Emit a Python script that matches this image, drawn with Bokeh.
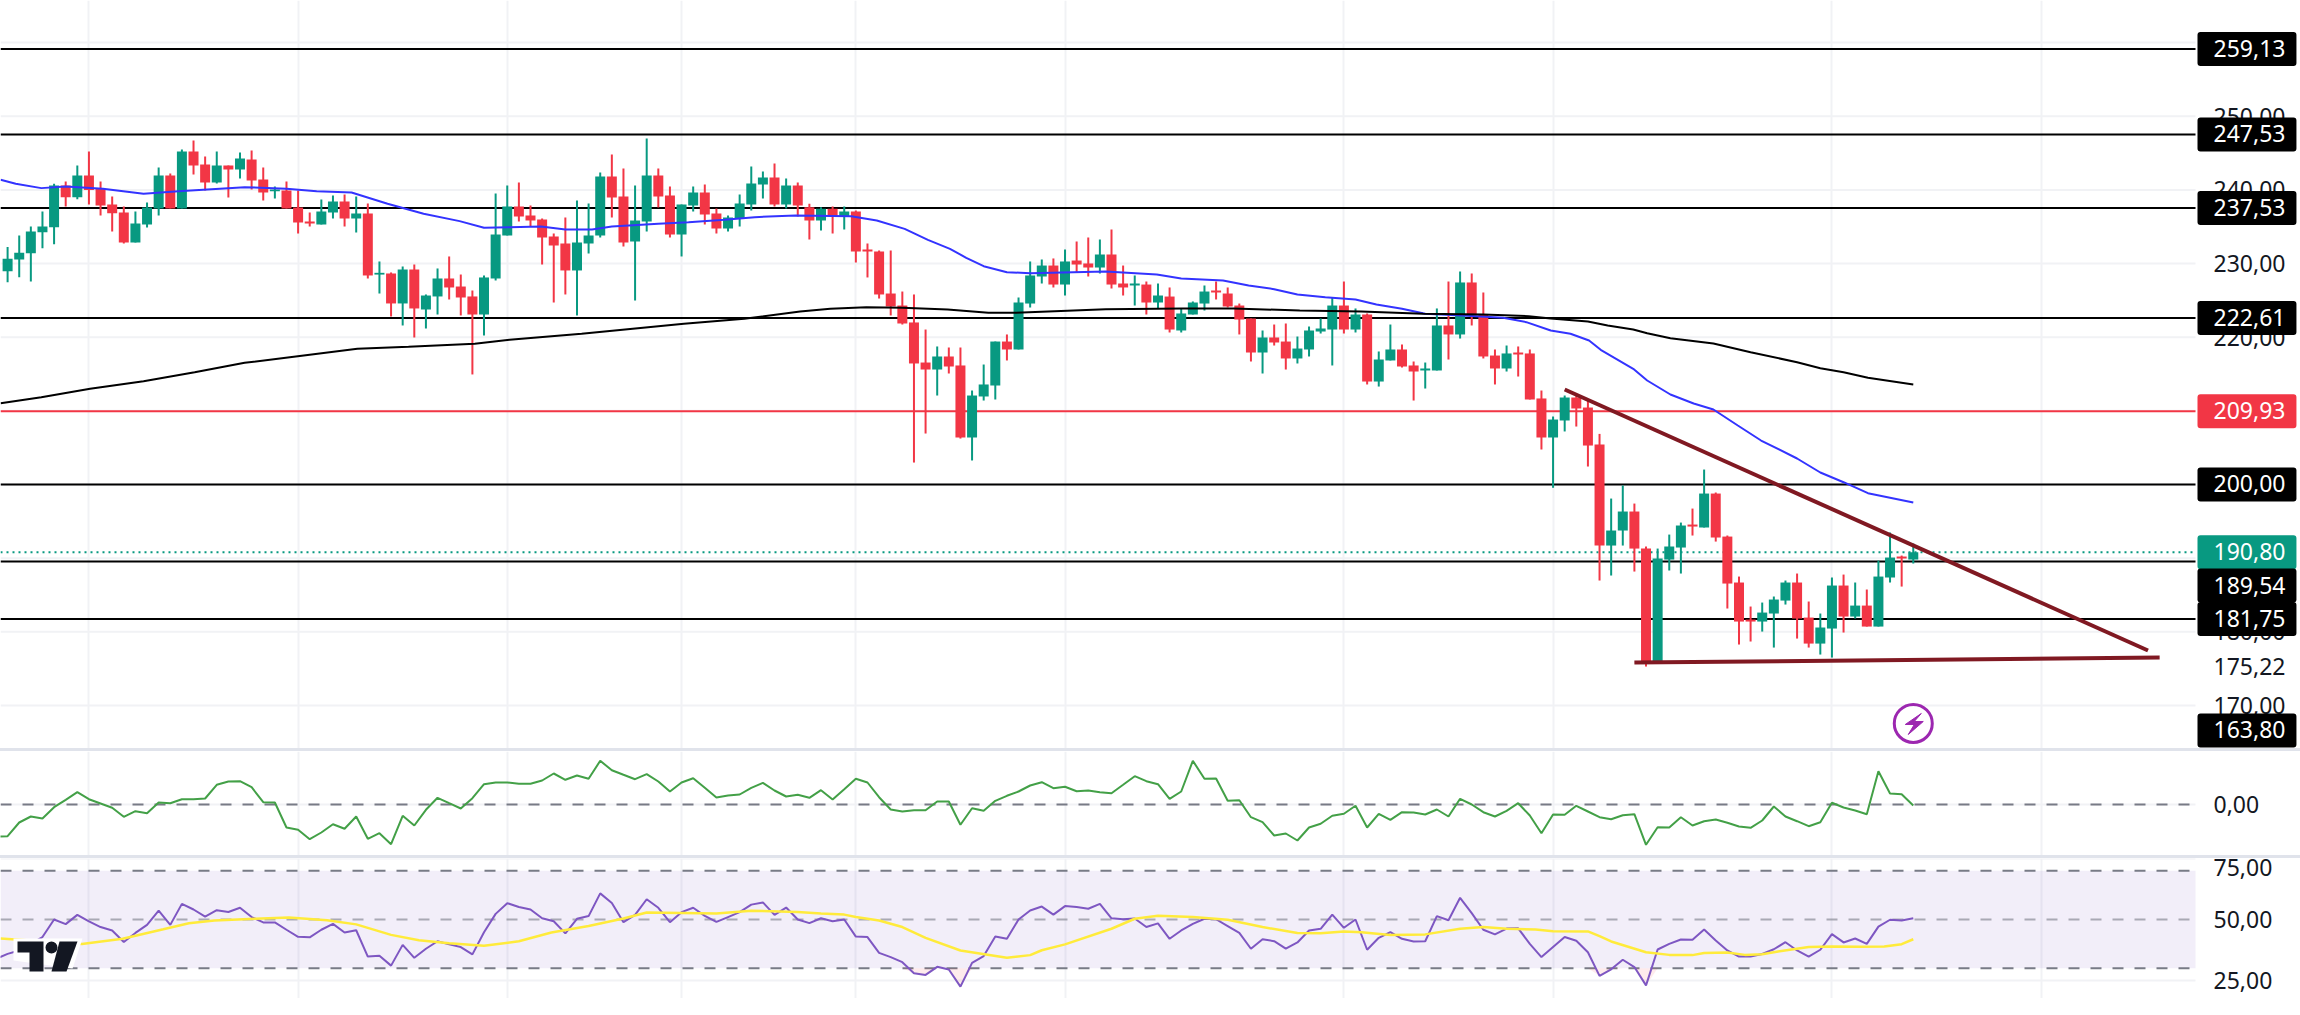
from bokeh.plotting import figure
from bokeh.layouts import column
from bokeh.models import Label, FixedTicker, BoxAnnotation, Spacer, Range1d
from bokeh.embed import file_html
from bokeh.resources import INLINE

# ---------- price candles ----------
opens = [228.97,230.55,231.41,234.26,234.94,240.60,239.01,241.96,240.15,238.02,
 236.93,232.86,235.30,237.48,241.96,237.48,245.22,243.45,241.01,243.31,
 242.77,244.13,241.41,239.80,239.92,237.61,235.71,235.30,236.93,238.43,
 236.12,236.80,228.50,228.65,224.58,229.19,223.76,225.53,227.97,226.88,
 225.53,223.08,227.97,233.81,237.75,236.53,235.98,233.67,232.72,229.06,
 232.72,233.81,241.82,239.11,233.00,235.71,241.96,239.24,233.95,237.88,
 239.65,236.80,234.76,236.12,238.02,240.73,241.69,238.02,240.60,
 237.65,235.84,237.43,236.39,237.07,231.91,231.64,225.93,224.30,222.00,
 216.56,215.61,217.38,216.16,206.38,211.95,213.44,219.41,218.33,224.57,
 228.24,229.73,227.15,230.41,230.01,229.46,231.23,227.29,227.02,227.15,
 224.71,225.52,220.91,223.08,224.57,226.34,225.93,224.30,222.54,217.92,
 219.96,219.41,217.11,218.33,220.77,221.04,224.30,221.04,223.08,213.98,
 216.84,218.33,216.16,215.48,215.48,221.59,220.37,227.43,223.08,217.51,
 215.75,217.92,217.79,211.68,206.38,208.69,211.81,210.45,
 205.42,191.71,193.75,196.33,191.30,175.96,189.81,191.44,194.56,194.16,
 198.77,192.93,186.69,181.66,181.39,182.48,184.24,186.69,181.93,178.40,
 180.44,186.28,182.07,183.56,180.71,187.37,190.22,189.81]
highs = [232.23,233.81,235.03,237.07,240.83,241.14,243.31,245.22,241.14,239.11,
 237.75,237.07,238.29,243.04,242.23,245.49,246.71,244.54,245.22,243.31,
 245.08,245.35,243.04,240.46,241.14,239.92,236.93,238.70,239.24,239.38,
 239.11,238.15,230.28,228.79,229.60,229.87,225.80,229.33,230.96,228.51,
 226.34,228.38,239.51,240.60,241.01,237.88,236.12,234.08,236.25,238.56,
 238.15,242.36,244.81,242.91,240.60,246.98,242.91,240.46,238.02,240.46,
 240.73,237.48,236.53,239.38,243.18,242.50,243.59,241.55,241.01,
 238.11,237.65,237.75,237.75,237.20,232.72,231.77,231.77,226.20,225.80,
 221.04,218.74,218.60,218.60,212.76,216.29,219.41,220.37,225.39,230.28,
 230.55,230.69,231.91,232.99,233.54,233.26,234.62,229.73,228.38,227.56,
 227.29,226.75,223.90,224.85,227.02,227.56,226.75,224.57,222.54,220.91,
 221.72,221.86,220.09,221.45,222.54,225.39,227.56,223.90,223.22,218.06,
 221.72,219.01,216.70,216.56,223.90,227.56,228.92,228.65,226.07,218.33,
 218.87,218.74,218.33,212.76,209.23,212.08,212.08,211.40,
 206.87,198.09,199.86,197.41,191.58,191.30,193.20,194.83,196.73,202.03,
 198.91,193.07,187.50,183.43,183.97,184.79,186.96,187.91,184.11,182.48,
 187.37,187.77,186.69,185.74,189.67,193.48,190.35,191.98]
lows = [227.47,228.15,227.56,232.09,232.63,237.75,238.74,238.02,236.53,234.35,
 232.72,232.86,234.90,236.53,237.48,237.48,242.09,239.92,240.87,238.97,
 241.55,240.06,238.56,238.83,237.48,234.08,235.03,235.30,236.12,235.03,
 234.22,227.97,225.93,222.81,221.59,219.96,221.18,223.08,225.12,222.95,
 214.94,220.23,227.70,233.81,235.71,235.03,229.87,224.71,225.80,222.95,
 231.37,233.54,236.25,232.32,224.98,234.35,237.61,233.54,230.96,237.07,
 235.30,234.08,234.35,235.03,237.20,238.83,237.75,237.48,236.39,
 233.26,234.49,234.08,234.62,230.14,228.11,225.25,222.95,221.72,202.98,
 206.92,212.08,215.07,206.24,203.26,211.40,211.54,216.84,218.33,224.03,
 227.29,226.75,225.66,228.78,228.24,228.65,226.61,225.66,224.30,223.08,
 223.90,220.64,220.64,223.08,223.62,225.12,224.03,220.37,216.70,215.07,
 218.87,215.61,216.43,217.38,220.50,216.16,220.50,220.64,213.58,213.30,
 216.84,215.88,211.40,213.03,215.48,216.97,219.82,221.59,217.11,213.58,
 215.34,214.66,211.54,204.75,199.55,207.20,207.87,202.44,
 186.96,187.64,191.71,188.18,175.28,175.82,188.32,187.91,193.07,194.16,
 192.25,183.16,178.27,178.68,180.03,177.86,183.70,179.08,177.86,176.91,
 176.50,179.90,181.80,180.71,180.71,186.69,186.14,189.27]
closes = [230.64,231.46,234.35,235.03,240.60,239.01,241.96,239.97,237.88,236.84,
 232.86,235.44,237.61,241.96,237.48,245.22,243.31,241.01,243.31,242.77,
 244.27,241.28,239.65,240.06,237.48,235.58,235.44,237.07,238.43,236.12,
 236.80,228.38,228.74,224.58,229.19,223.90,225.66,227.97,226.75,225.39,
 223.08,228.11,233.95,237.75,236.39,235.85,233.54,232.45,229.06,232.86,
 233.81,241.82,238.97,232.86,235.85,241.96,239.11,233.95,238.02,239.65,
 236.66,234.76,236.25,238.15,240.87,241.69,238.02,240.60,237.88,
 235.84,237.43,236.39,237.07,231.64,231.64,225.80,224.17,221.86,216.43,
 215.61,217.38,216.02,206.38,212.08,213.58,219.41,218.33,224.71,228.38,
 229.73,227.15,230.28,229.87,229.46,231.23,227.15,226.75,227.29,224.71,
 225.66,221.04,223.22,224.71,226.20,226.07,224.17,222.40,217.92,219.96,
 219.28,217.11,218.46,220.91,221.18,224.30,221.04,223.08,213.98,216.97,
 218.33,216.02,215.34,215.75,221.59,220.37,227.43,222.95,217.38,215.75,
 217.79,217.65,211.54,206.38,208.82,211.81,210.32,205.29,
 191.71,193.75,196.33,191.30,175.82,189.95,191.58,194.43,194.29,198.77,
 192.80,186.55,181.39,181.39,182.61,184.38,186.69,181.80,178.40,180.58,
 186.28,182.07,183.56,180.71,187.50,190.08,189.95,190.80]

# ---------- moving averages on the price pane ----------
ma50_bars = [-0.6,0.7,2.9,5,8.2,11.7,14.7,20.4,24,26.6,29.6,32.7,35.8,38.9,41,43.2,45.9,48,50.3,52,56,58.6,61.7,64.3,67.8,
 72.6,74.8,77.2,79.2,81.1,82.5,84,86,88,94.5,98.9,101,104.6,106.8,109,111,113.4,116,117.8,120,122,125.2,128.7,130.7,
 132.8,134.5,136.1,137.1,139.9,141.1,143.1,145.1,146.8,148.9,150.9,154,156,158,160.1,164]
ma50_vals = [241.37,240.83,240.24,240.46,240.15,239.47,239.83,240.37,240.15,239.83,239.65,238.11,236.75,235.76,234.85,234.94,235.03,234.62,234.62,235.03,235.39,235.62,235.94,236.30,236.53,
 236.43,235.84,234.71,233.22,232.00,230.78,229.64,228.83,228.69,228.92,228.51,227.97,227.70,227.02,226.52,225.80,225.43,225.12,224.44,223.85,223.17,222.95,222.63,222.04,
 220.91,220.46,219.55,218.29,215.71,214.12,212.22,210.99,210.18,208.01,205.97,203.53,201.63,200.31,198.82,197.55]
ma200_bars = [-0.6,2.9,7.1,11.7,16.1,20.4,24.8,30.1,34.5,40.2,43.2,49.4,53.8,58.2,63.4,68.2,
 70.8,73.9,77,80.9,84.4,86.6,90.1,94.5,101.1,105.5,111.2,116.5,121.8,127,130.9,
 132.8,136,137.7,139.9,141.1,143.1,146.8,150,154,156,158,160.1,164]
ma200_vals = [211.04,211.86,212.99,214.03,215.25,216.52,217.38,218.42,218.69,219.10,219.64,220.46,221.14,221.82,222.50,223.49,
 223.85,224.08,223.99,223.76,223.31,223.31,223.53,223.81,223.90,223.90,223.62,223.49,223.17,223.08,222.85,
 222.54,222.13,221.59,221.04,220.54,219.86,219.14,217.96,216.60,215.79,215.25,214.49,213.58]

# ---------- hand-drawn levels and trend lines ----------
black_levels = [259.13, 247.53, 237.53, 222.61, 200.00, 189.54, 181.75]
red_level = 209.93
last_price = 190.80
down_trend_bars = [134.0, 184.2]
down_trend_vals = [212.90, 177.46]
flat_trend_bars = [140.0, 185.2]
flat_trend_vals = [175.83, 176.50]
time_ticks = [7, 25, 43, 58, 73, 91, 115, 133, 157, 175]
price_grid = [170, 180, 190, 200, 210, 220, 230, 240, 250, 260]
price_ticks = [170, 175.22, 180, 190, 200, 210, 220, 230, 240, 250, 260]
price_tick_labels = ["170,00", "175,22", "180,00", "190,00", "200,00", "210,00", "220,00", "230,00", "240,00", "250,00", "260,00"]
tag_texts = ["259,13", "247,53", "237,53", "222,61", "209,93", "200,00", "190,80", "189,54", "181,75", "163,80"]
tag_prices = [259.13, 247.53, 237.53, 222.61, 209.93, 200.00, 190.80, 189.54, 181.75, 163.80]
tag_colors = ["#000000", "#000000", "#000000", "#000000", "#f23645", "#000000", "#089981", "#000000", "#000000", "#000000"]
tag_shift = [0, 0, 0, 0, 0, 0, 0, -24, 0, 0]

# ---------- oscillator ----------
osc = [-32,-31.7,-18,-12,-14,-2.7,4.7,12.3,5.3,1,-3.3,-12.3,-6.7,-8.7,2,1.3,5.3,5.3,6,19.7,23,23.3,17.3,2.3,2,-23,-25.3,-34.7,-28,-19.7,-24.3,-12,-34.3,-28.7,-39.7,-11.3,-21,-5.3,6.7,1.3,-4,6.3,20.3,22,22,20.7,20.7,24,31,24.7,29,25.7,43.7,34.3,29.7,25.3,30.3,23,13,22,26.3,16.7,7,9,10,16.7,21.7,14,8,9.7,
 6.7,14.3,5,15.3,25.7,22,7.3,-5,-7,-5.7,-5.7,3,3,-20.3,-3.7,-6.3,3.7,8.7,13,19,22.3,16.3,17.7,13.3,14,12.3,11.3,19.7,28.3,23.3,20.3,5.7,13,43.7,25.7,26,3.7,4.3,-12.7,-17.7,-31,-29,-36,-23,-19.3,-11.3,-9.3,-1.3,-23,-9.3,-15.3,-7.7,-8,-10,-5,-12,5.7,0,-7.7,-12,-6.3,1.3,-11,-28.7,-10,-10.3,-1.3,-7,-12.7,
 -14.7,-10.7,-9.7,-40.3,-22.7,-23,-12.7,-21,-16.7,-15,-18.3,-22,-23.3,-16,-2,-12,-16.7,-21.7,-17.7,1.7,-3,-6,-9.7,33.3,11,10.3,-1]

# ---------- RSI and its average ----------
rsi = [33.9,35.9,37.3,40.0,42.8,50,48.1,51.9,49.2,46.9,45.5,40.8,44.5,47.8,53.6,47.8,56.4,54.1,51.2,53.8,53.1,54.8,51.0,48.8,48.8,45.8,42.9,42.7,45.8,48.2,44.7,45.6,34.8,35.1,31.1,39.6,34.3,38.0,41.1,39.8,38.7,35.7,44.8,52.3,56.7,55.1,54.1,50.5,49.3,44.3,50.3,51.4,60.7,56.8,48.9,51.9,58.3,54.8,48.9,53.0,54.8,51.5,49.0,51.0,53.0,56.1,57.0,51.9,54.9,50.0,
 48.5,50.5,49.3,50,43.0,42.8,36.3,34.6,32.5,28.0,27.3,30.6,29.5,22.5,32.2,35.0,43.0,42.1,50,53.7,55.3,52.0,55.5,55.1,54.4,56.4,50.5,50.1,50.4,46.9,48.4,42.1,45.5,48.2,50.3,50.1,47.3,44.5,38.0,41.9,41.1,38.1,40.6,45.5,46.2,52.0,46.6,50,37.6,42.5,44.8,42.1,41.0,41.1,51.4,49.7,58.9,52.6,45.8,43.9,46.3,46.4,40.0,34.6,38.7,42.8,41.3,36.6,26.9,
 29.6,33.5,30.5,23.0,37.7,40.0,41.8,41.7,45.9,41.4,37.3,34.8,34.8,35.9,37.8,40.7,37.3,34.8,37.6,44.0,40.6,42.2,40.0,47.1,49.9,49.6,50.5]
rsi_ma_bars = [-0.6,6.4,9.9,13.4,15.6,17.8,21.3,24.2,27.5,30,33,35.4,38,41,44,46.8,50,53,55,58,61,64,68,
 70,72,73,75,77,79,82,86,88,89,91,95,97,99,102,105,108,111,113,115,116.5,119,122,125,127,129,131.5,133,136,
 137,138,141,143,145,146,148,149.5,151,152.5,155,157,159.5,161.5,163,164]
rsi_ma_vals = [42.2,40.0,42.1,46.0,48.5,49.6,50.3,50.8,49.7,48.0,43.7,41.5,40.3,39.2,41.1,44.7,47.3,50.4,52.9,52.7,52.5,53.6,53.1,
 52.5,52.0,51.0,49.6,46.9,42.5,37.3,34.3,35.4,37.4,39.8,46.2,50.3,51.5,51.0,49.9,46.9,44.5,44.4,45.1,44.8,43.6,43.9,46.2,46.9,46.2,45.9,45.2,45.1,
 43.2,41.0,36.6,35.5,35.4,36.3,36.5,35.5,35.8,37.0,38.7,38.9,38.8,38.9,39.9,41.9]

# ---------- layout scale of the three panes ----------
BAR_PX, BAR0_PX, PANE_W, TOTAL_W = 11.62, 7.1, 2195, 2300
X_L = -BAR0_PX / BAR_PX
X_R = (TOTAL_W - BAR0_PX) / BAR_PX
X_PANE = (PANE_W - BAR0_PX) / BAR_PX
X_TAG = (2197 - BAR0_PX) / BAR_PX
PX_PER_PRICE = 7.365
GREEN, RED, INK, GRID, SEP, DASH = "#089981", "#f23645", "#131722", "#f1f2f5", "#e0e3eb", "#787b86"
FONT = "Noto Sans"

def hlines(fig, levels, **kw):
    fig.segment([X_L] * len(levels), levels, [X_PANE] * len(levels), levels, **kw)

def make_fig(h, ylo, yhi, ticks, overrides):
    p = figure(width=TOTAL_W, height=h, x_range=Range1d(X_L, X_R), y_range=Range1d(ylo, yhi),
               y_axis_location="right", toolbar_location=None, tools="", output_backend="svg",
               min_border_left=0, min_border_top=0, min_border_bottom=0, min_border_right=0)
    p.outline_line_color = None
    p.background_fill_color = "#ffffff"
    p.border_fill_color = "#ffffff"
    p.xaxis.visible = False
    p.xgrid.ticker = FixedTicker(ticks=time_ticks)
    p.xgrid.grid_line_color = GRID
    p.xgrid.grid_line_width = 2
    p.ygrid.visible = False
    ax = p.yaxis[0]
    ax.ticker = FixedTicker(ticks=ticks)
    ax.major_label_overrides = overrides
    ax.axis_line_color = None
    ax.major_tick_line_color = None
    ax.minor_tick_line_color = None
    ax.major_tick_in = 0
    ax.major_tick_out = 0
    ax.major_label_standoff = -87
    ax.major_label_text_align = "left"
    ax.major_label_text_font = FONT
    ax.major_label_text_font_size = "23px"
    ax.major_label_text_color = INK
    return p

# ---------- price pane: y=0..748 px ----------
price_top = 259.13 + 48.5 / PX_PER_PRICE
price_bot = 259.13 - (748 - 48.5) / PX_PER_PRICE
main = make_fig(748, price_bot, price_top, price_ticks, dict(zip(price_ticks, price_tick_labels)))

hlines(main, price_grid, line_color=GRID, line_width=2)
hlines(main, black_levels, line_color="#000000", line_width=2)
hlines(main, [red_level], line_color=RED, line_width=2)
hlines(main, [last_price], line_color=GREEN, line_width=2, line_dash="2 4")

bars = list(range(len(opens)))
colors = [GREEN if c >= o else RED for o, c in zip(opens, closes)]
main.segment(bars, highs, bars, lows, line_color=colors, line_width=2)
main.vbar(x=bars, width=0.86, top=[max(o, c) for o, c in zip(opens, closes)],
          bottom=[min(o, c) for o, c in zip(opens, closes)], fill_color=colors, line_color=None)

main.line(ma50_bars, ma50_vals, line_color="#3333ff", line_width=2)
main.line(ma200_bars, ma200_vals, line_color="#000000", line_width=2)
main.line(down_trend_bars, down_trend_vals, line_color="#801922", line_width=4)
main.line(flat_trend_bars, flat_trend_vals, line_color="#801922", line_width=4)

# lightning badge
badge_bar, badge_price = 164, 167.55
main.scatter([badge_bar], [badge_price], size=38, marker="circle", fill_color=None, line_color="#9c27b0", line_width=3)
bolt = [(8, -10), (-8, 1), (1, 1), (-5, 11), (10, -2), (1, -2)]
main.patch([badge_bar + dx / BAR_PX for dx, dy in bolt], [badge_price - dy / PX_PER_PRICE for dx, dy in bolt],
           fill_color="#9c27b0", line_color="#9c27b0", line_width=1)

for t, v, col, sh in zip(tag_texts, tag_prices, tag_colors, tag_shift):
    y_val = v if v > price_bot + 3 else 166.6
    main.add_layout(Label(x=X_TAG, y=y_val, x_units="data", y_units="data", y_offset=sh, text=t,
                          text_color="#ffffff", text_font=FONT, text_font_size="23px",
                          text_align="left", text_baseline="middle",
                          background_fill_color=col, padding=(16, 11, 8, 9), border_radius=3, level="overlay"))

# ---------- oscillator pane: y=751..855 px, one unit per pixel ----------
osc_bars = list(range(-1, len(opens)))
osc_pane = make_fig(104, -51, 53, [0], {0: "0,00"})
hlines(osc_pane, [0], line_color=GRID, line_width=2)
hlines(osc_pane, [0], line_color=DASH, line_width=2, line_dash="11 11")
osc_pane.line(osc_bars, osc, line_color="#43a047", line_width=2)

# ---------- RSI pane: y=858..998 px ----------
RSI_PX = 2.44
rsi_top = 50 + (919 - 858) / RSI_PX
rsi_bot = 50 - (998 - 919) / RSI_PX
rsi_pane = make_fig(140, rsi_bot, rsi_top, [25, 50, 75], {25: "25,00", 50: "50,00", 75: "75,00"})
rsi_pane.add_layout(BoxAnnotation(bottom=30, top=70, right=X_PANE, fill_color="#7e57c2", fill_alpha=0.1, line_color=None, level="underlay"))
hlines(rsi_pane, [25, 75], line_color=GRID, line_width=2)
hlines(rsi_pane, [70, 30], line_color=DASH, line_width=2, line_dash="11 11")
hlines(rsi_pane, [50], line_color=DASH, line_alpha=0.6, line_width=2, line_dash="11 11")
rsi_pane.varea(osc_bars, [30] * len(rsi), [min(r, 30) for r in rsi], fill_color="#f23645", fill_alpha=0.1)
rsi_pane.line(osc_bars, rsi, line_color="#7e57c2", line_width=2)
rsi_pane.line(rsi_ma_bars, rsi_ma_vals, line_color="#ffeb3b", line_width=2.5)

# TradingView-style logo, placed in pixels through the pane's scale
def lx(px):
    return (px - BAR0_PX) / BAR_PX
def ly(py):
    return 50 - (py - 919) / RSI_PX
def poly(fig, pts, color):
    fig.patch([lx(a) for a, b in pts], [ly(b) for a, b in pts], fill_color=color, line_color=None)
poly(rsi_pane, [(13, 938), (82, 938), (72, 968), (13, 960)], "#ffffff")
poly(rsi_pane, [(17, 941), (43, 941), (43, 971), (29, 971), (29, 952), (17, 952)], INK)
poly(rsi_pane, [(59, 941), (77, 941), (66, 971), (51, 971)], INK)
rsi_pane.scatter([lx(51)], [ly(947)], size=12, marker="circle", fill_color=INK, line_color=None)

sep1 = Spacer(width=TOTAL_W, height=3, styles={"background-color": SEP})
sep2 = Spacer(width=TOTAL_W, height=3, styles={"background-color": SEP})
page = column(main, sep1, osc_pane, sep2, rsi_pane, spacing=0)

open("out.html", "w").write(file_html(page, INLINE))
